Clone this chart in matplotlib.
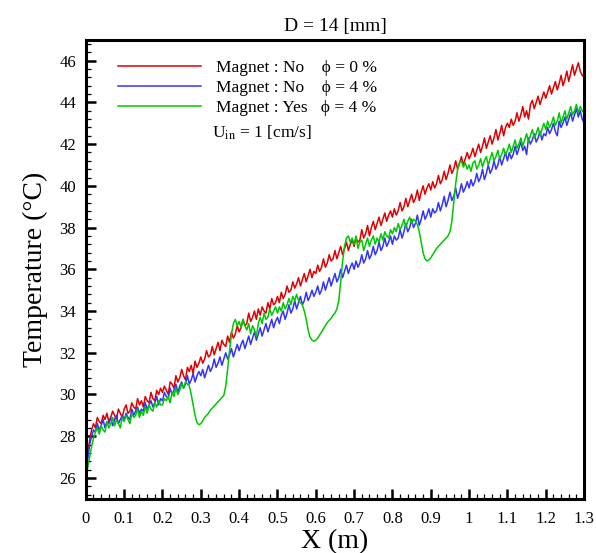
import numpy as np
import matplotlib
matplotlib.use("Agg")
import matplotlib.pyplot as plt
from matplotlib.ticker import MultipleLocator

plt.rcParams['font.family'] = ['Liberation Serif', 'DejaVu Serif']
plt.rcParams['mathtext.fontset'] = 'stix'

# sample positions along the channel, every 5 mm
x = np.round(np.arange(261) * 0.005, 3)

# Magnet : No, phi = 0 %
t_red = [
    26.0, 27.2, 27.8, 28.3, 28.6, 28.4, 28.9, 28.7, 28.6, 29.0, 28.8, 29.1, 28.7, 28.9, 29.2, 29.0, 28.8, 29.3, 29.1, 28.9,
    29.3, 29.5, 29.1, 29.2, 29.6, 29.4, 29.3, 29.8, 29.5, 29.7, 29.4, 29.9, 29.7, 29.6, 30.1, 29.8, 29.7, 30.2, 30.0, 30.3,
    30.1, 30.4, 30.2, 30.0, 30.6, 30.5, 30.3, 30.9, 30.6, 30.8, 31.2, 30.9, 30.7, 31.3, 31.1, 31.4, 31.0, 31.6, 31.3, 31.5,
    31.8, 31.5, 31.7, 32.1, 31.8, 31.9, 32.3, 31.9, 32.2, 32.5, 32.1, 32.6, 32.4, 32.3, 32.8, 32.5, 33.0, 32.7, 32.9, 33.3,
    33.0, 33.2, 33.6, 33.3, 33.4, 33.9, 33.5, 33.7, 34.0, 33.6, 34.1, 33.8, 34.2, 34.0, 33.9, 34.4, 34.1, 34.6, 34.3, 34.4,
    34.7, 34.4, 34.9, 34.6, 34.8, 35.2, 34.9, 35.0, 35.4, 35.1, 35.3, 35.6, 35.2, 35.5, 35.8, 35.4, 35.7, 36.0, 35.6, 35.9,
    35.8, 36.2, 35.9, 36.1, 36.5, 36.1, 36.3, 36.7, 36.4, 36.5, 36.9, 36.5, 36.8, 37.1, 36.7, 37.0, 37.3, 36.9, 37.2, 37.4,
    37.1, 37.5, 37.3, 37.4, 37.9, 37.5, 37.7, 38.1, 37.6, 38.0, 38.3, 37.9, 38.2, 38.5, 38.1, 38.4, 38.7, 38.3, 38.6, 38.8,
    38.5, 38.9, 38.6, 38.8, 39.2, 38.8, 39.0, 39.4, 39.0, 39.3, 39.6, 39.2, 39.4, 39.8, 39.3, 39.7, 40.0, 39.6, 39.9, 40.1,
    39.8, 40.2, 39.9, 40.1, 40.5, 40.1, 40.3, 40.7, 40.3, 40.6, 41.0, 40.6, 40.8, 41.2, 40.8, 41.1, 41.4, 41.0, 41.3, 41.6,
    41.3, 41.5, 41.8, 41.4, 41.7, 42.0, 41.6, 41.9, 42.3, 41.8, 42.1, 42.4, 42.0, 42.3, 42.7, 42.2, 42.5, 42.9, 42.4, 42.8,
    43.0, 42.8, 43.2, 42.9, 43.1, 43.5, 43.1, 43.4, 43.8, 43.3, 43.6, 43.2, 43.9, 44.1, 43.7, 44.0, 44.3, 43.9, 44.2, 44.5,
    44.2, 44.5, 44.8, 44.4, 44.7, 45.0, 44.6, 44.9, 45.3, 44.8, 45.1, 45.5, 45.0, 45.4, 45.8, 45.3, 45.6, 45.9, 45.5, 45.3,
    45.2,
]

# Magnet : No, phi = 4 %
t_blue = [
    26.0, 26.9, 27.6, 28.0, 28.3, 28.2, 28.6, 28.3, 28.5, 28.8, 28.4, 28.7, 28.6, 28.9, 28.5, 28.8, 29.0, 28.6, 28.8, 29.0,
    28.8, 29.1, 28.9, 28.8, 29.3, 29.0, 29.2, 29.4, 29.1, 29.3, 29.2, 29.6, 29.3, 29.5, 29.7, 29.4, 29.6, 29.9, 29.5, 29.8,
    29.7, 30.1, 29.9, 29.8, 30.3, 30.0, 30.2, 30.5, 30.1, 30.4, 30.6, 30.3, 30.5, 30.9, 30.5, 30.7, 31.0, 30.6, 30.9, 31.1,
    30.9, 31.2, 30.8, 31.1, 31.4, 31.1, 31.3, 31.7, 31.3, 31.5, 31.8, 31.4, 31.7, 32.0, 31.7, 31.9, 32.2, 31.8, 32.1, 32.4,
    32.1, 32.4, 32.6, 32.2, 32.5, 32.8, 32.4, 32.7, 33.0, 32.6, 32.9, 33.2, 32.8, 33.1, 33.4, 33.0, 33.3, 33.6, 33.2, 33.5,
    33.7, 33.4, 33.8, 34.0, 33.6, 33.9, 34.3, 33.9, 34.1, 34.5, 34.1, 34.4, 34.7, 34.3, 34.5, 34.9, 34.5, 34.7, 35.0, 34.7,
    34.9, 35.2, 34.8, 35.0, 35.4, 35.0, 35.3, 35.6, 35.2, 35.5, 35.8, 35.4, 35.6, 36.0, 35.6, 35.9, 36.2, 35.8, 36.1, 36.3,
    36.0, 36.4, 36.1, 36.3, 36.7, 36.3, 36.5, 36.9, 36.5, 36.7, 37.1, 36.7, 36.9, 37.3, 36.9, 37.1, 37.5, 37.1, 37.3, 37.6,
    37.2, 37.6, 37.4, 37.5, 37.9, 37.5, 37.8, 38.2, 37.8, 38.0, 38.4, 38.0, 38.2, 38.6, 38.1, 38.4, 38.8, 38.4, 38.6, 38.9,
    38.5, 38.9, 38.7, 38.8, 39.2, 38.8, 39.1, 39.5, 39.0, 39.3, 39.7, 39.3, 39.5, 39.9, 39.4, 39.7, 40.1, 39.7, 39.9, 40.2,
    39.9, 40.3, 40.0, 40.2, 40.6, 40.2, 40.4, 40.8, 40.3, 40.6, 41.0, 40.6, 40.8, 41.2, 40.8, 41.0, 41.4, 41.0, 41.3, 41.6,
    41.2, 41.6, 41.3, 41.5, 41.9, 41.5, 41.8, 42.1, 41.7, 41.9, 41.5, 42.3, 42.0, 42.2, 42.5, 42.1, 42.3, 42.6, 42.2, 42.5,
    42.4, 42.8, 42.5, 42.7, 43.0, 42.6, 42.4, 43.1, 42.8, 43.0, 43.3, 42.9, 43.2, 43.5, 43.1, 43.4, 43.7, 43.3, 43.6, 43.2,
    43.0,
]

# Magnet : Yes, phi = 4 %
t_green = [
    26.0, 26.5, 27.0, 27.5, 27.9, 28.2, 28.4, 28.1, 28.5, 28.3, 28.2, 28.7, 28.4, 28.6, 28.9, 28.5, 28.8, 28.6, 28.4, 28.9,
    28.7, 29.0, 28.8, 28.6, 29.1, 28.9, 29.0, 29.3, 28.9, 29.2, 29.0, 29.4, 29.1, 29.5, 29.3, 29.2, 29.6, 29.4, 29.7, 29.5,
    29.5, 29.8, 29.7, 29.9, 29.6, 30.1, 29.9, 30.3, 30.0, 30.2, 30.5, 30.3, 30.6, 30.5, 30.4, 30.0, 29.5, 29.0, 28.65, 28.55,
    28.6, 28.75, 28.9, 29.0, 29.1, 29.25, 29.35, 29.45, 29.55, 29.65, 29.75, 29.85, 29.95, 30.4, 31.2, 32.1, 32.9, 33.4, 33.6, 33.3,
    33.5, 33.2, 33.6, 33.3, 33.1, 33.4, 32.9, 33.3, 33.1, 32.8, 33.4, 33.7, 33.4, 33.9, 33.6, 33.7, 34.1, 33.8, 34.0, 34.2,
    33.9, 34.2, 34.0, 34.4, 34.1, 34.3, 34.6, 34.3, 34.7, 34.5, 34.8, 34.5, 34.4, 34.3, 34.0, 33.6, 33.1, 32.75, 32.6, 32.55,
    32.6, 32.7, 32.85, 33.0, 33.15, 33.3, 33.45, 33.55, 33.65, 33.8, 33.9, 34.1, 34.5, 35.4, 36.4, 37.1, 37.5, 37.6, 37.3, 37.5,
    37.2, 37.6, 37.0, 37.3, 37.4, 36.9, 37.2, 37.5, 37.1, 37.4, 37.6, 37.2, 37.5, 37.3, 37.7, 37.4, 37.8, 37.6, 37.5, 37.9,
    37.7, 38.0, 37.8, 38.2, 37.9, 38.1, 38.4, 38.0, 38.3, 38.5, 38.2, 38.4, 38.3, 38.15, 37.8, 37.3, 36.8, 36.5, 36.4, 36.45,
    36.55, 36.7, 36.85, 37.0, 37.1, 37.2, 37.3, 37.4, 37.5, 37.6, 37.8, 38.3, 39.2, 40.1, 40.8, 41.1, 41.2, 40.9, 41.1, 40.8,
    41.0, 40.7, 41.1, 41.2, 40.8, 41.0, 41.3, 40.9, 41.2, 41.4, 41.0, 41.3, 41.6, 41.2, 41.4, 41.7, 41.3, 41.5, 41.8, 41.5,
    41.7, 42.0, 41.6, 41.9, 42.2, 41.8, 42.0, 42.3, 41.9, 42.2, 42.5, 42.1, 42.4, 42.7, 42.3, 42.5, 42.8, 42.4, 42.7, 43.0,
    42.7, 43.1, 42.8, 43.0, 43.3, 42.9, 43.1, 43.5, 43.0, 43.3, 43.6, 43.2, 43.5, 43.8, 43.4, 43.6, 43.9, 43.5, 43.8, 43.6,
    43.5,
]

labels = ["Magnet : No    \u03d5 = 0 %", "Magnet : No    \u03d5 = 4 %", "Magnet : Yes   \u03d5 = 4 %"]
colors = ["#e00000", "#3333ff", "#00c800"]

fig = plt.figure(figsize=(5.96, 5.53), dpi=100)
ax = fig.add_axes([0.144, 0.098, 0.836, 0.83])

for t, lab, c in zip([t_red, t_blue, t_green], labels, colors):
    ax.plot(x, t, color=c, lw=1.1, label=lab)

ax.set_xlim(0, 1.3)
ax.set_ylim(25, 47)
ax.set_xticks(np.arange(0, 1.31, 0.1))
ax.set_xticklabels(["0", "0.1", "0.2", "0.3", "0.4", "0.5", "0.6", "0.7", "0.8", "0.9", "1", "1.1", "1.2", "1.3"])
ax.set_yticks(np.arange(26, 47, 2))
ax.xaxis.set_minor_locator(MultipleLocator(0.02))
ax.yaxis.set_minor_locator(MultipleLocator(0.4))
ax.tick_params(which='both', direction='in', top=False, right=False, labelsize=12)
ax.tick_params(which='major', length=7, width=1.8)
ax.tick_params(which='minor', length=3.5, width=0.9)
ax.tick_params(axis='x', pad=9)
ax.tick_params(axis='y', pad=7)
for s in ax.spines.values():
    s.set_linewidth(2.2)

ax.set_xlabel("X (m)", fontsize=20, labelpad=1)
ax.set_ylabel("Temperature (\u00b0C)", fontsize=20, labelpad=8)
ax.set_title("D = 14 [mm]", fontsize=14, pad=6)

leg = ax.legend(loc='upper left', bbox_to_anchor=(0.064, 0.957), frameon=False, fontsize=12.5,
                handlelength=4.8, handletextpad=0.85, labelspacing=0.22, borderpad=0, borderaxespad=0)
ax.text(0.253, 0.797, "U$_{\\rm in}$ = 1 [cm/s]", transform=ax.transAxes, fontsize=12.5, va='center')

fig.savefig("out.png", dpi=100)
